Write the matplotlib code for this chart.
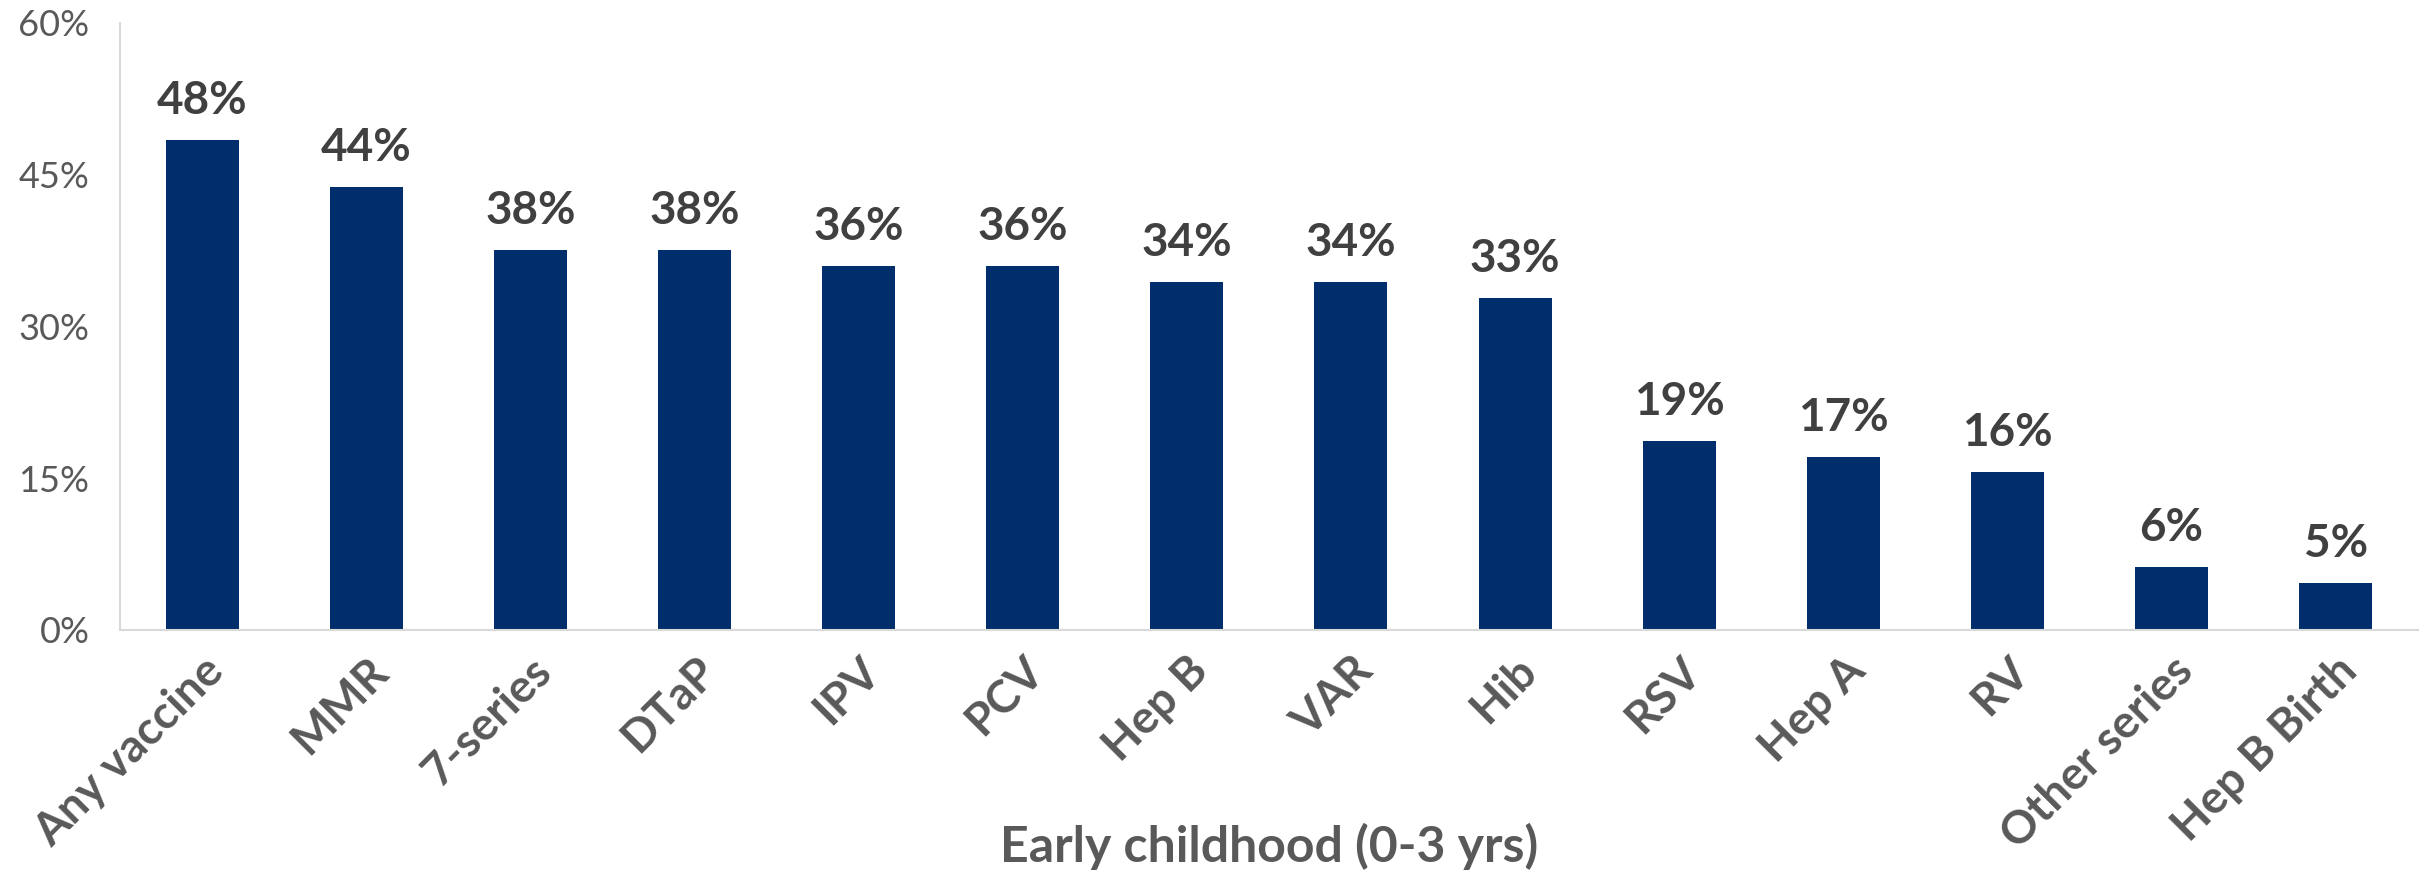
import matplotlib
matplotlib.use("Agg")
import matplotlib.pyplot as plt
from matplotlib.ticker import FixedLocator, FuncFormatter

vaccines = ['Any vaccine', 'MMR', '7-series', 'DTaP', 'IPV', 'PCV', 'Hep B',
            'VAR', 'Hib', 'RSV', 'Hep A', 'RV', 'Other series', 'Hep B Birth']
share = [48.4, 43.8, 37.6, 37.6, 36.0, 36.0, 34.4, 34.4, 32.8, 18.7, 17.1,
         15.6, 6.2, 4.6]
y_ticks = [0, 15, 30, 45, 60]

bar_color = '#002D6B'
label_color = '#404040'
tick_color = '#595959'
axis_color = '#D9D9D9'

plt.rcParams['font.family'] = ['Lato', 'DejaVu Sans']

fig = plt.figure(figsize=(24.25, 8.73), dpi=100)
ax = fig.add_axes([0.0495, 0.2784, 0.9475, 0.6953])

x = range(len(vaccines))
bars = ax.bar(x, share, width=0.445, color=bar_color, zorder=2)

for rect, v in zip(bars, share):
    ax.annotate(f'{v:.0f}%', (rect.get_x() + rect.get_width() / 2, v),
                xytext=(0, 13), textcoords='offset points',
                ha='center', va='bottom', fontsize=33, fontweight='bold',
                color=label_color)

ax.set_xlim(-0.5, len(vaccines) - 0.5)
ax.set_ylim(0, 60)
ax.yaxis.set_major_locator(FixedLocator(y_ticks))
ax.yaxis.set_major_formatter(FuncFormatter(lambda v, _: f'{v:.0f}%'))
ax.tick_params(axis='y', length=0, pad=22, labelsize=26, labelcolor=tick_color)

ax.set_xticks(list(x))
ax.set_xticklabels(vaccines, rotation=45, ha='right', rotation_mode='anchor',
                   fontsize=33, fontweight='bold', color=tick_color)
ax.tick_params(axis='x', length=0, pad=14)

ax.set_xlabel('Early childhood (0-3 yrs)', fontsize=36, fontweight='bold',
              color=tick_color, va='center')
ax.xaxis.set_label_coords(0.5, -0.357)

for side in ['top', 'right']:
    ax.spines[side].set_visible(False)
for side in ['left', 'bottom']:
    ax.spines[side].set_color(axis_color)
    ax.spines[side].set_linewidth(1.5)

fig.savefig('out.png', dpi=100)
